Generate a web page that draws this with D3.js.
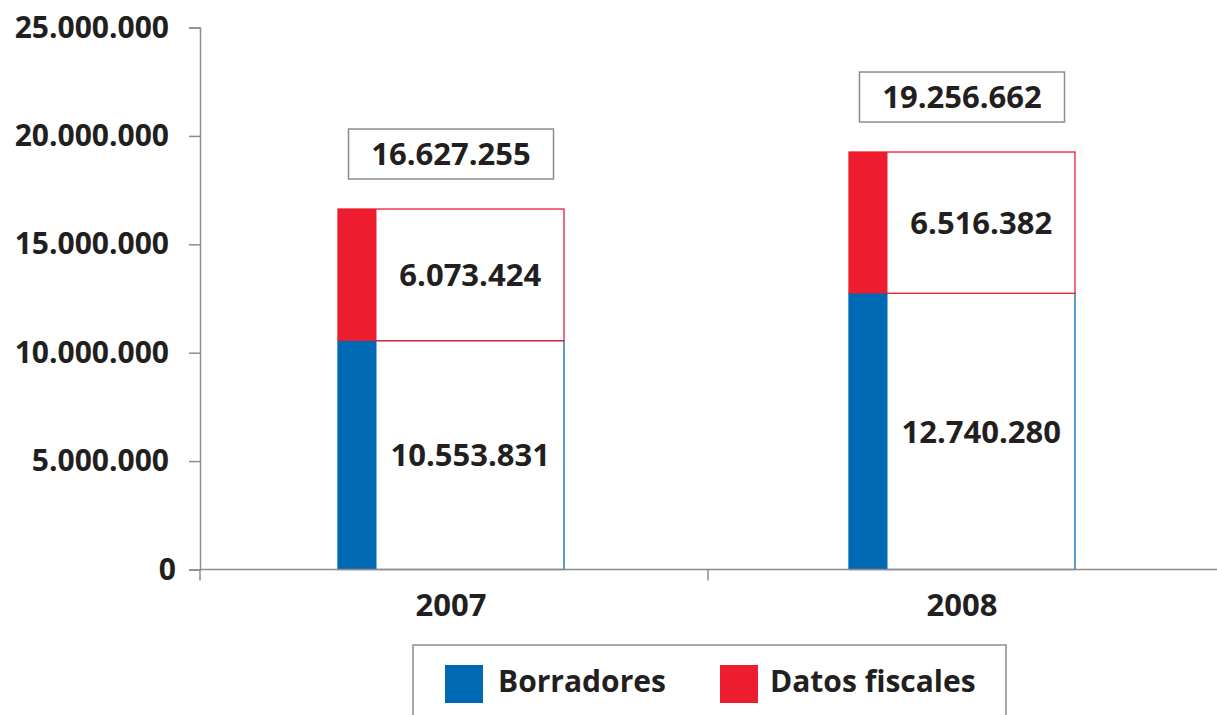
<!DOCTYPE html>
<html>
<head>
<meta charset="utf-8">
<script src="https://cdnjs.cloudflare.com/ajax/libs/d3/7.8.5/d3.min.js"></script>
<style>
  body { margin: 0; background: #fff; }
  text { font-family: "Open Sans", sans-serif; font-weight: 700; fill: #231f20; }
</style>
</head>
<body>
<div id="chart"></div>
<script>
// Datos
let years = ["2007", "2008"];
let borradores = [10553831, 12740280];
let datosFiscales = [6073424, 6516382];
let totales = [16627255, 19256662];
let yTicks = [0, 5000000, 10000000, 15000000, 20000000, 25000000];
let seriesNames = ["Borradores", "Datos fiscales"];
let seriesColors = ["#0069b4", "#ed1c2e"];

let width = 1217, height = 715;
let margins = { left: 200, right: 0, top: 27.5, bottom: 145.5 };

let fmt = d3.formatLocale({ decimal: ",", thousands: ".", grouping: [3], currency: ["", " €"] }).format(",d");

let svg = d3.select("#chart").append("svg")
            .attr("width", width)
            .attr("height", height);

let xScale = d3.scaleBand()
               .domain(years)
               .range([197, 1219])
               .padding(0);

let yScale = d3.scaleLinear()
               .domain([0, 25000000])
               .range([height - margins.bottom, margins.top]);

let stripW = 38.5;   // parte coloreada
let barW = 226;      // ancho total (franja + caja)
let barX = d => xScale(d) + xScale.bandwidth() / 2 - 1.5 - barW / 2;

let rows = years.map((y, i) => ({ year: y, b: borradores[i], f: datosFiscales[i], t: totales[i] }));

// Eje Y
svg.append("g")
   .attr("transform", `translate(${margins.left},0)`)
   .call(d3.axisLeft(yScale).tickValues(yTicks).tickSize(11).tickPadding(20).tickFormat(fmt))
   .call(g => g.select(".domain").attr("stroke", "#8c8c8c").attr("stroke-width", 1.5))
   .call(g => g.selectAll(".tick line").attr("stroke", "#8c8c8c").attr("stroke-width", 1.5))
   .call(g => g.selectAll(".tick text").style("font-size", "30px").style("font-family", "Open Sans").attr("fill", "#231f20"))
   .call(g => g.selectAll(".tick text").filter(d => d === 0).attr("dx", 7));

// Barras
let bars = svg.append("g").selectAll("g").data(rows).enter().append("g");

// caja de borradores (contorno azul)
bars.append("rect")
    .attr("x", d => barX(d.year))
    .attr("y", d => yScale(d.b))
    .attr("width", barW)
    .attr("height", d => yScale(0) - yScale(d.b))
    .attr("fill", "#fff")
    .attr("stroke", seriesColors[0])
    .attr("stroke-width", 1.3);

// caja de datos fiscales (contorno rojo)
bars.append("rect")
    .attr("x", d => barX(d.year))
    .attr("y", d => yScale(d.b + d.f))
    .attr("width", barW)
    .attr("height", d => yScale(d.b) - yScale(d.b + d.f))
    .attr("fill", "#fff")
    .attr("stroke", seriesColors[1])
    .attr("stroke-width", 1.3);

bars.append("rect")
    .attr("x", d => barX(d.year))
    .attr("y", d => yScale(d.b))
    .attr("width", stripW)
    .attr("height", d => yScale(0) - yScale(d.b))
    .attr("fill", seriesColors[0]);

bars.append("rect")
    .attr("x", d => barX(d.year))
    .attr("y", d => yScale(d.b + d.f))
    .attr("width", stripW)
    .attr("height", d => yScale(d.b) - yScale(d.b + d.f))
    .attr("fill", seriesColors[1]);

// etiquetas de valores
let cx = d => barX(d.year) + stripW + (barW - stripW) / 2;
bars.append("text")
    .attr("x", cx)
    .attr("y", d => (yScale(0) + yScale(d.b)) / 2)
    .attr("dy", "0.36em")
    .attr("text-anchor", "middle")
    .style("font-size", "31px")
    .text(d => fmt(d.b));

bars.append("text")
    .attr("x", cx)
    .attr("y", d => (yScale(d.b) + yScale(d.b + d.f)) / 2)
    .attr("dy", "0.36em")
    .attr("text-anchor", "middle")
    .style("font-size", "31px")
    .text(d => fmt(d.f));

// totales en caja
let boxW = 205, boxH = 50;
bars.append("rect")
    .attr("x", d => barX(d.year) + barW / 2 - boxW / 2)
    .attr("y", d => yScale(d.t) - 30 - boxH)
    .attr("width", boxW)
    .attr("height", boxH)
    .attr("fill", "#fff")
    .attr("stroke", "#8c8c8c")
    .attr("stroke-width", 1.5);

bars.append("text")
    .attr("x", d => barX(d.year) + barW / 2)
    .attr("y", d => yScale(d.t) - 30 - boxH / 2)
    .attr("dy", "0.36em")
    .attr("text-anchor", "middle")
    .style("font-size", "31px")
    .text(d => fmt(d.t));

// Eje X (líneas de separación entre categorías)
let y0 = yScale(0);
let xAxis = svg.append("g");
xAxis.append("line")
     .attr("x1", margins.left).attr("x2", width)
     .attr("y1", y0).attr("y2", y0)
     .attr("stroke", "#8c8c8c").attr("stroke-width", 1.5);
let seps = [margins.left, xScale(years[1])];
xAxis.selectAll(".sep")
     .data(seps)
     .enter().append("line")
     .attr("x1", d => d)
     .attr("x2", d => d)
     .attr("y1", y0).attr("y2", y0 + 11)
     .attr("stroke", "#8c8c8c").attr("stroke-width", 1.5);
xAxis.selectAll(".cat")
     .data(rows)
     .enter().append("text")
     .attr("x", d => barX(d.year) + barW / 2)
     .attr("y", y0 + 46)
     .attr("text-anchor", "middle")
     .style("font-size", "31px")
     .text(d => d.year);

// Leyenda
let legend = svg.append("g");
legend.append("rect")
      .attr("x", 413).attr("y", 645)
      .attr("width", 593).attr("height", 90)
      .attr("fill", "#fff")
      .attr("stroke", "#8c8c8c").attr("stroke-width", 1.5);

let legX = [445, 720];
let items = legend.selectAll(".item")
                  .data(seriesNames)
                  .enter().append("g")
                  .attr("transform", (d, i) => `translate(${legX[i]},665)`);
items.append("rect")
     .attr("width", 38).attr("height", 38)
     .attr("fill", (d, i) => seriesColors[i]);
items.append("text")
     .attr("x", (d, i) => i === 0 ? 53 : 50)
     .attr("y", 27)
     .style("font-size", "30px")
     .text(d => d);
</script>
</body>
</html>
